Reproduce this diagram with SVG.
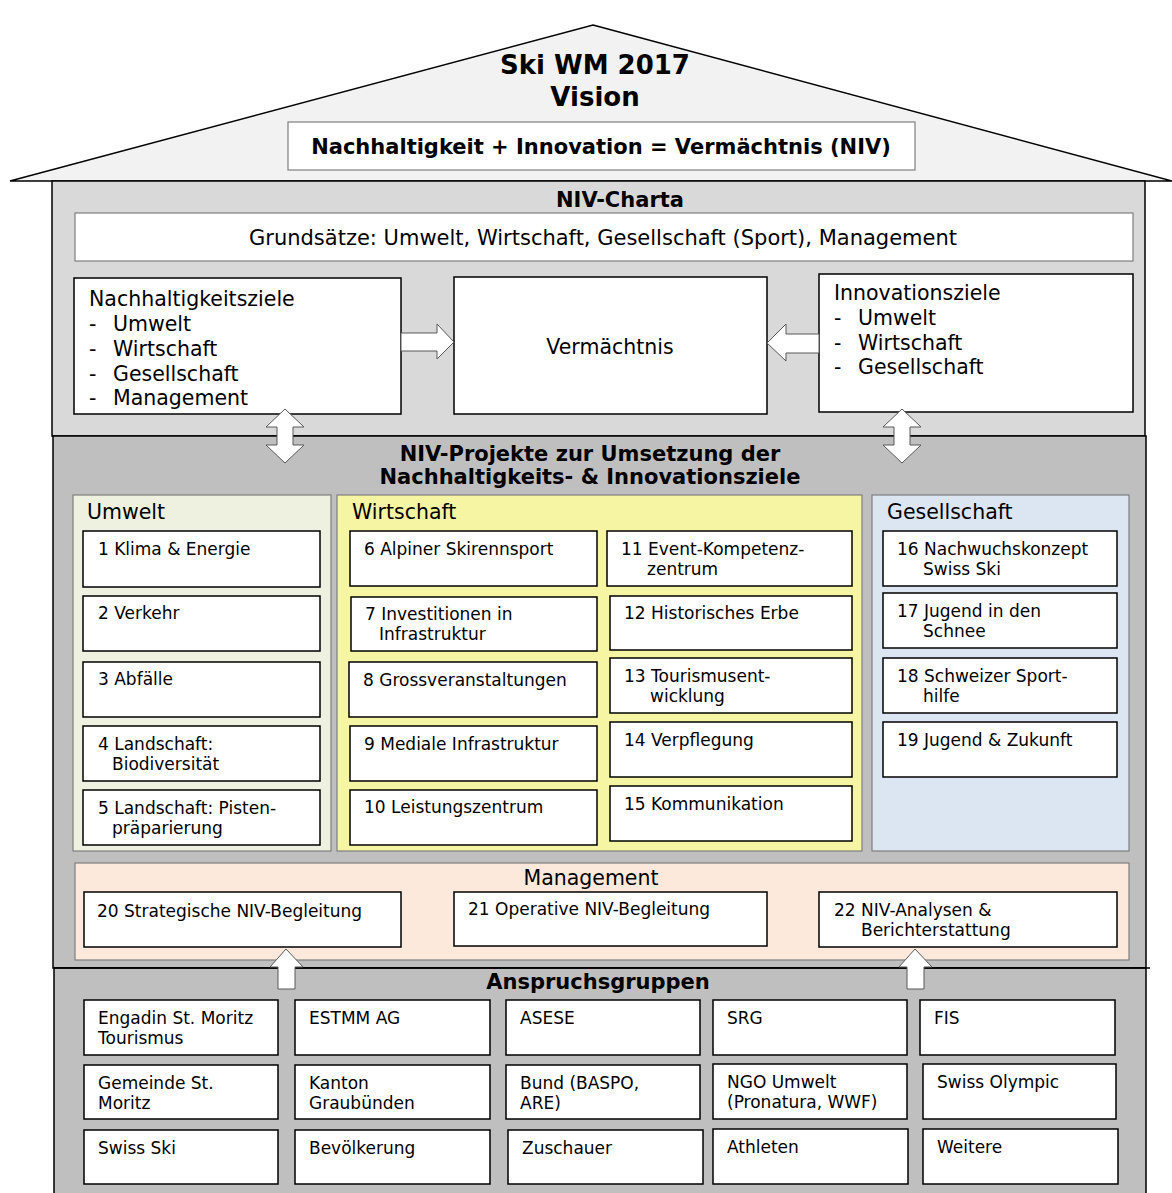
<svg xmlns="http://www.w3.org/2000/svg" width="1172" height="1193" viewBox="0 0 1172 1193">
<style>
text{font-family:"DejaVu Sans","Verdana",sans-serif;fill:#000}
.h1{font-size:26px;font-weight:bold}
.h2{font-size:21px;font-weight:bold}
.t19{font-size:21px}
.t20{font-size:20.5px}
.t16{font-size:17px}
.box{fill:#fff;stroke:#000;stroke-width:1.5}
.sec{stroke:#000;stroke-width:1.5}
.pan{stroke:#7f7f7f;stroke-width:1.2}
.arr{fill:#fff;stroke:#595959;stroke-width:1}
</style>
<rect width="1172" height="1193" fill="#fff"/>
<g id="roof">
<polygon points="593,25 1172,181 10,181" fill="#f2f2f2" stroke="#000" stroke-width="1.5"/>
<text class="h1" x="595" y="74" text-anchor="middle">Ski WM 2017</text>
<text class="h1" x="595" y="106" text-anchor="middle">Vision</text>
</g>
<g id="formula">
<rect x="288" y="122" width="627" height="48" fill="#fff" stroke="#7f7f7f" stroke-width="1.2"/>
<text class="h2" x="601" y="154" text-anchor="middle">Nachhaltigkeit + Innovation = Vermächtnis (NIV)</text>
</g>
<g id="charta">
<rect class="sec" x="52" y="181" width="1093" height="255" fill="#d9d9d9"/>
<text class="h2" x="620" y="207" text-anchor="middle">NIV-Charta</text>
</g>
<g id="grundsaetze">
<rect x="75" y="213" width="1058" height="48" fill="#fff" stroke="#7f7f7f" stroke-width="1.2"/>
<text class="t19" x="603" y="245" text-anchor="middle">Grundsätze: Umwelt, Wirtschaft, Gesellschaft (Sport), Management</text>
</g>
<g id="nachhaltigkeitsziele">
<rect class="box" x="74" y="278" width="327" height="136"/>
<text class="t20" x="89" y="306">Nachhaltigkeitsziele</text>
<text class="t20" x="89" y="331">-</text><text class="t20" x="113" y="331">Umwelt</text>
<text class="t20" x="89" y="356">-</text><text class="t20" x="113" y="356">Wirtschaft</text>
<text class="t20" x="89" y="381">-</text><text class="t20" x="113" y="381">Gesellschaft</text>
<text class="t20" x="89" y="405">-</text><text class="t20" x="113" y="405">Management</text>
</g>
<g id="vermaechtnis">
<rect class="box" x="454" y="277" width="313" height="137"/>
<text class="t20" x="610" y="354" text-anchor="middle">Vermächtnis</text>
</g>
<g id="innovationsziele">
<rect class="box" x="819" y="274" width="314" height="138"/>
<text class="t20" x="834" y="300">Innovationsziele</text>
<text class="t20" x="834" y="325">-</text><text class="t20" x="858" y="325">Umwelt</text>
<text class="t20" x="834" y="350">-</text><text class="t20" x="858" y="350">Wirtschaft</text>
<text class="t20" x="834" y="374">-</text><text class="t20" x="858" y="374">Gesellschaft</text>
</g>
<g id="projekte">
<rect class="sec" x="53" y="436" width="1093" height="532" fill="#bfbfbf"/>
<text class="h2" x="590" y="461" text-anchor="middle">NIV-Projekte zur Umsetzung der</text>
<text class="h2" x="590" y="484" text-anchor="middle">Nachhaltigkeits- &amp; Innovationsziele</text>
</g>
<g id="umwelt">
<rect class="pan" x="73" y="495" width="258" height="356" fill="#eef0e0"/>
<text class="t20" x="87" y="519">Umwelt</text>
<rect class="box" x="83" y="531" width="237" height="56"/>
<text class="t16" x="98" y="555">1 Klima &amp; Energie</text>
<rect class="box" x="83" y="596" width="237" height="55"/>
<text class="t16" x="98" y="619">2 Verkehr</text>
<rect class="box" x="83" y="662" width="237" height="55"/>
<text class="t16" x="98" y="685">3 Abfälle</text>
<rect class="box" x="83" y="726" width="237" height="55"/>
<text class="t16" x="98" y="750">4 Landschaft:</text>
<text class="t16" x="112" y="770">Biodiversität</text>
<rect class="box" x="83" y="790" width="237" height="55"/>
<text class="t16" x="98" y="814">5 Landschaft: Pisten-</text>
<text class="t16" x="112" y="834">präparierung</text>
</g>
<g id="wirtschaft">
<rect class="pan" x="337" y="495" width="525" height="356" fill="#f5f5a3"/>
<text class="t20" x="352" y="519">Wirtschaft</text>
<rect class="box" x="350" y="531" width="247" height="55"/>
<text class="t16" x="364" y="555">6 Alpiner Skirennsport</text>
<rect class="box" x="351" y="597" width="246" height="54"/>
<text class="t16" x="365" y="620">7 Investitionen in</text>
<text class="t16" x="379" y="640">Infrastruktur</text>
<rect class="box" x="349" y="662" width="248" height="55"/>
<text class="t16" x="363" y="686">8 Grossveranstaltungen</text>
<rect class="box" x="350" y="726" width="247" height="55"/>
<text class="t16" x="364" y="750">9 Mediale Infrastruktur</text>
<rect class="box" x="350" y="790" width="247" height="55"/>
<text class="t16" x="364" y="813">10 Leistungszentrum</text>
<rect class="box" x="607" y="531" width="245" height="55"/>
<text class="t16" x="621" y="555">11 Event-Kompetenz-</text>
<text class="t16" x="647" y="575">zentrum</text>
<rect class="box" x="610" y="596" width="242" height="54"/>
<text class="t16" x="624" y="619">12 Historisches Erbe</text>
<rect class="box" x="610" y="658" width="242" height="55"/>
<text class="t16" x="624" y="682">13 Tourismusent-</text>
<text class="t16" x="650" y="702">wicklung</text>
<rect class="box" x="610" y="722" width="242" height="55"/>
<text class="t16" x="624" y="746">14 Verpflegung</text>
<rect class="box" x="610" y="786" width="242" height="55"/>
<text class="t16" x="624" y="810">15 Kommunikation</text>
</g>
<g id="gesellschaft">
<rect class="pan" x="872" y="495" width="257" height="356" fill="#dce6f2"/>
<text class="t20" x="887" y="519">Gesellschaft</text>
<rect class="box" x="883" y="531" width="234" height="55"/>
<text class="t16" x="897" y="555">16 Nachwuchskonzept</text>
<text class="t16" x="923" y="575">Swiss Ski</text>
<rect class="box" x="883" y="593" width="234" height="55"/>
<text class="t16" x="897" y="617">17 Jugend in den</text>
<text class="t16" x="923" y="637">Schnee</text>
<rect class="box" x="883" y="658" width="234" height="55"/>
<text class="t16" x="897" y="682">18 Schweizer Sport-</text>
<text class="t16" x="923" y="702">hilfe</text>
<rect class="box" x="883" y="722" width="234" height="55"/>
<text class="t16" x="897" y="746">19 Jugend &amp; Zukunft</text>
</g>
<g id="management">
<rect class="pan" x="75" y="863" width="1054" height="97" fill="#fce9dc"/>
<text class="t20" x="591" y="885" text-anchor="middle">Management</text>
<rect class="box" x="84" y="892" width="317" height="55"/>
<text class="t16" x="97" y="917">20 Strategische NIV-Begleitung</text>
<rect class="box" x="454" y="892" width="313" height="54"/>
<text class="t16" x="468" y="915">21 Operative NIV-Begleitung</text>
<rect class="box" x="819" y="892" width="298" height="55"/>
<text class="t16" x="834" y="916">22 NIV-Analysen &amp;</text>
<text class="t16" x="861" y="936">Berichterstattung</text>
</g>
<g id="anspruchsgruppen">
<rect x="54" y="968" width="1092" height="230" fill="#bfbfbf" stroke="#000" stroke-width="1.5"/>
<line x1="54" y1="968" x2="1150" y2="968" stroke="#000" stroke-width="1.5"/>
<text class="h2" x="598" y="989" text-anchor="middle">Anspruchsgruppen</text>
</g>
<g id="stakeholders">
<rect class="box" x="84" y="1000" width="194" height="55"/>
<text class="t16" x="98" y="1024">Engadin St. Moritz</text>
<text class="t16" x="98" y="1044">Tourismus</text>
<rect class="box" x="295" y="1000" width="195" height="55"/>
<text class="t16" x="309" y="1024">ESTMM AG</text>
<rect class="box" x="506" y="1000" width="194" height="55"/>
<text class="t16" x="520" y="1024">ASESE</text>
<rect class="box" x="713" y="1000" width="194" height="55"/>
<text class="t16" x="727" y="1024">SRG</text>
<rect class="box" x="920" y="1000" width="195" height="55"/>
<text class="t16" x="934" y="1024">FIS</text>
<rect class="box" x="84" y="1065" width="194" height="54"/>
<text class="t16" x="98" y="1089">Gemeinde St.</text>
<text class="t16" x="98" y="1109">Moritz</text>
<rect class="box" x="295" y="1065" width="195" height="54"/>
<text class="t16" x="309" y="1089">Kanton</text>
<text class="t16" x="309" y="1109">Graubünden</text>
<rect class="box" x="506" y="1065" width="194" height="54"/>
<text class="t16" x="520" y="1089">Bund (BASPO,</text>
<text class="t16" x="520" y="1109">ARE)</text>
<rect class="box" x="713" y="1064" width="194" height="55"/>
<text class="t16" x="727" y="1088">NGO Umwelt</text>
<text class="t16" x="727" y="1108">(Pronatura, WWF)</text>
<rect class="box" x="923" y="1064" width="193" height="55"/>
<text class="t16" x="937" y="1088">Swiss Olympic</text>
<rect class="box" x="84" y="1130" width="194" height="54"/>
<text class="t16" x="98" y="1154">Swiss Ski</text>
<rect class="box" x="295" y="1130" width="195" height="54"/>
<text class="t16" x="309" y="1154">Bevölkerung</text>
<rect class="box" x="508" y="1130" width="195" height="54"/>
<text class="t16" x="522" y="1154">Zuschauer</text>
<rect class="box" x="713" y="1129" width="195" height="55"/>
<text class="t16" x="727" y="1153">Athleten</text>
<rect class="box" x="923" y="1129" width="195" height="55"/>
<text class="t16" x="937" y="1153">Weitere</text>
</g>
<g id="connectors">
<polygon class="arr" points="401,333 437,333 437,324 454,342 437,359 437,351 401,351"/>
<polygon class="arr" points="819,334 786,334 786,324 767,343 786,361 786,353 819,353"/>
<polygon class="arr" points="285,409 304,427 293,427 293,445 304,445 285,463 266,445 277,445 277,427 266,427"/>
<polygon class="arr" points="902,409 921,427 910,427 910,445 921,445 902,463 883,445 894,445 894,427 883,427"/>
<polygon class="arr" points="286,949 303,967 295,967 295,989 278,989 278,967 270,967"/>
<polygon class="arr" points="915,949 932,967 924,967 924,989 907,989 907,967 899,967"/>
</g>
</svg>
